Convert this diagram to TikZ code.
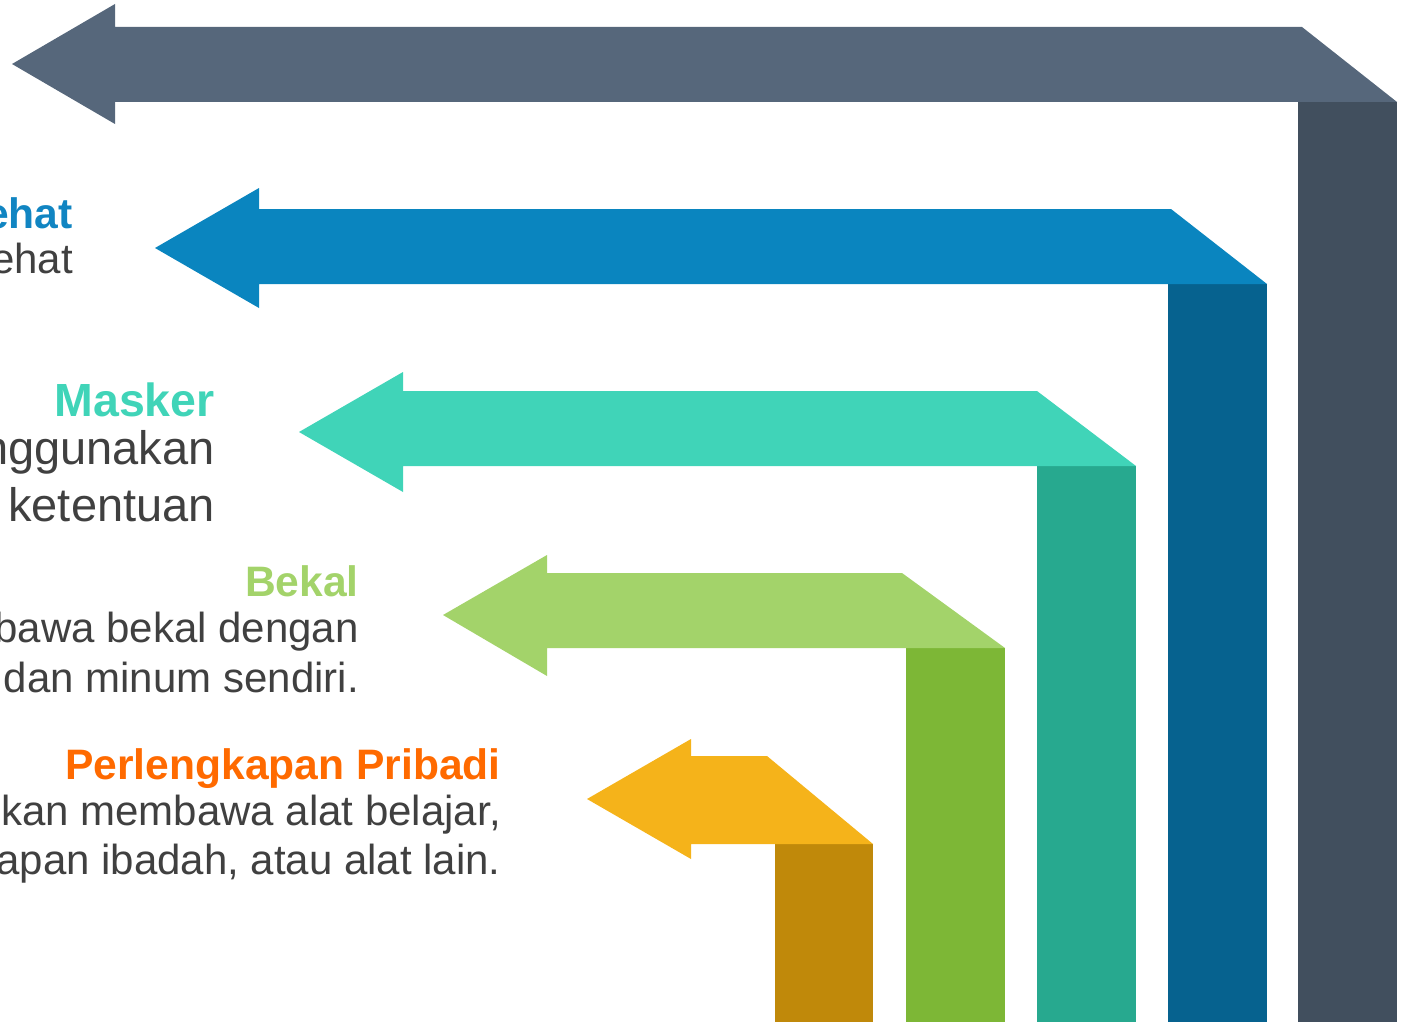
\documentclass[tikz,border=0pt]{standalone}
\usepackage{fontspec}
\setmainfont{Liberation Sans}
\definecolor{bandA}{HTML}{56677B}
\definecolor{colA}{HTML}{414F5E}
\definecolor{bandB}{HTML}{0A85BF}
\definecolor{colB}{HTML}{06628F}
\definecolor{bandC}{HTML}{40D4B8}
\definecolor{colC}{HTML}{27A98F}
\definecolor{bandD}{HTML}{A3D36A}
\definecolor{colD}{HTML}{7DB736}
\definecolor{bandE}{HTML}{F5B31A}
\definecolor{colE}{HTML}{C0890A}
\definecolor{titleB}{HTML}{1185C2}
\definecolor{titleC}{HTML}{40D4B8}
\definecolor{titleD}{HTML}{A3D36A}
\definecolor{titleE}{HTML}{FF6A00}
\definecolor{bodygray}{HTML}{404040}
\begin{document}
\begin{tikzpicture}[x=1pt,y=-1pt,
  titletext/.style={anchor=base east,inner sep=0pt,font=\fontsize{42.6}{50}\selectfont\bfseries},
  bodytext/.style={anchor=base east,inner sep=0pt,font=\fontsize{42}{50}\selectfont,text=bodygray}]
\useasboundingbox (0,0) rectangle (1404,1022);
\clip (0,0) rectangle (1404,1022);
% arrow 1 (dark)
\fill[colA] (1298,102) rectangle (1397,1022);
\fill[bandA] (12,64) -- (115,4) -- (115,27) -- (1302,27) -- (1397,102) -- (115,102) -- (115,124) -- cycle;
% arrow 2 (blue)
\fill[colB] (1168,284) rectangle (1267,1022);
\fill[bandB] (155,248) -- (259,188) -- (259,209) -- (1171,209) -- (1267,284) -- (259,284) -- (259,308) -- cycle;
% arrow 3 (teal)
\fill[colC] (1037,466) rectangle (1136,1022);
\fill[bandC] (299,432) -- (403,372) -- (403,391) -- (1037,391) -- (1136,466) -- (403,466) -- (403,492) -- cycle;
% arrow 4 (green)
\fill[colD] (906,648) rectangle (1005,1022);
\fill[bandD] (443,615) -- (547,555) -- (547,573) -- (902,573) -- (1005,648) -- (547,648) -- (547,676) -- cycle;
% arrow 5 (orange)
\fill[colE] (775,844) rectangle (873,1022);
\fill[bandE] (587,799) -- (691,739) -- (691,756) -- (767,756) -- (873,844) -- (691,844) -- (691,859) -- cycle;
% texts
\node[titletext,text=titleB] (t1) at (73,228) {Sehat};
\node[bodytext] (b1) at (73,273) {sehat};
\node[titletext,text=titleC,font=\fontsize{46.5}{50}\selectfont\bfseries] (t2) at (215,416) {Masker};
\node[bodytext,font=\fontsize{47}{50}\selectfont] (b2a) at (215,464) {Menggunakan};
\node[bodytext,font=\fontsize{47}{50}\selectfont] (b2b) at (215,521) {ketentuan};
\node[titletext,text=titleD] (t3) at (359,596) {Bekal};
\node[bodytext] (b3a) at (359,642) {membawa bekal dengan};
\node[bodytext] (b3b) at (359,692) {dan minum sendiri.};
\node[titletext,text=titleE] (t4) at (501,779) {Perlengkapan Pribadi};
\node[bodytext] (b4a) at (501,825) {Disarankan membawa alat belajar,};
\node[bodytext] (b4b) at (501,874) {perlengkapan ibadah, atau alat lain.};
\end{tikzpicture}
\end{document}
